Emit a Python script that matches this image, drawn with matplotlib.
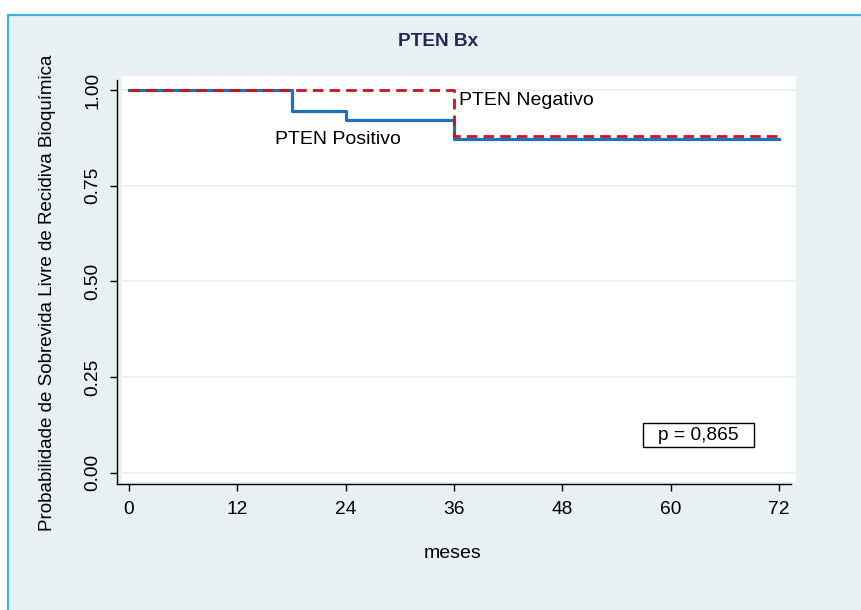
import matplotlib
matplotlib.use("Agg")
import matplotlib.pyplot as plt
from matplotlib.patches import Rectangle

# Kaplan-Meier estimates by PTEN status (time in months)
pos_times = [0, 18, 24, 36, 72]
pos_surv = [1.0, 0.944, 0.921, 0.872, 0.872]
neg_times = [0, 36, 72]
neg_surv = [1.0, 0.880, 0.880]

x_ticks = [0, 12, 24, 36, 48, 60, 72]
y_ticks = [0.00, 0.25, 0.50, 0.75, 1.00]
p_text = "p = 0,865"

W, H = 861, 610
plt.rcParams["font.family"] = ["Liberation Sans", "DejaVu Sans"]

fig = plt.figure(figsize=(W / 100, H / 100), dpi=100)
fig.patch.set_facecolor("white")


def fx(px):
    return px / W


def fy(py):
    return 1 - py / H


# outer graph region (open to the right and bottom edges)
fig.patches.append(Rectangle((fx(8), -0.02), 1.05 - fx(8), fy(15) + 0.02,
                             transform=fig.transFigure, facecolor="#e8f0f2",
                             edgecolor="#3ab4e6", linewidth=1.6, zorder=-2))
# plot region
fig.patches.append(Rectangle((fx(122), fy(482)), fx(796) - fx(122), fy(76) - fy(482),
                             transform=fig.transFigure, facecolor="white",
                             edgecolor="none", zorder=-1))

ax = fig.add_axes([fx(117), fy(484), fx(791) - fx(117), fy(80) - fy(484)])
ax.set_zorder(1)
ax.set_facecolor("none")
ax.set_xlim(-1.33, 73.33)
ax.set_ylim(-0.030, 1.026)

for s in ["top", "right"]:
    ax.spines[s].set_visible(False)
for s in ["left", "bottom"]:
    ax.spines[s].set_linewidth(1.0)
    ax.spines[s].set_color("black")

# horizontal grid spanning the plot region
ax.hlines(y_ticks, -0.78, 74.0, colors="#e6eff1", linewidth=1.2, zorder=1, clip_on=False)

ax.step(neg_times, neg_surv, where="post", color="#c8141e", linewidth=2.0,
        linestyle=(0, (3.8, 2.2)), zorder=3)
ax.step(pos_times, pos_surv, where="post", color="#1a72c0", linewidth=2.3, zorder=2.5)

ax.set_xticks(x_ticks)
ax.set_xticklabels([str(t) for t in x_ticks])
ax.set_yticks(y_ticks)
ax.set_yticklabels([f"{t:.2f}" for t in y_ticks], rotation=90, va="center")
ax.tick_params(axis="both", direction="out", length=5, width=1, colors="black",
               labelsize=13.8)
ax.tick_params(axis="x", pad=7)
ax.tick_params(axis="y", pad=6)

ax.text(36.6, 0.972, "PTEN Negativo", fontsize=14, ha="left", va="center", zorder=4)
ax.text(16.2, 0.870, "PTEN Positivo", fontsize=14, ha="left", va="center", zorder=4)

# p-value annotation in a framed box
ax.add_patch(Rectangle((56.9, 0.067), 12.3, 0.062, facecolor="white", edgecolor="black",
                       linewidth=1.0, zorder=3.5))
ax.text(63.05, 0.098, p_text, fontsize=13.8, ha="center", va="center", zorder=4)

fig.text(fx(438), fy(41), "PTEN Bx", fontsize=13.7, fontweight="bold", color="#1e2b57",
         ha="center", va="center")
fig.text(fx(453), fy(553), "meses", fontsize=14, ha="center", va="center")
fig.text(fx(48), fy(293), "Probabilidade de Sobrevida Livre de Recidiva Bioquímica",
         fontsize=13.5, rotation=90, ha="center", va="center")

fig.savefig("out.png", dpi=100)
